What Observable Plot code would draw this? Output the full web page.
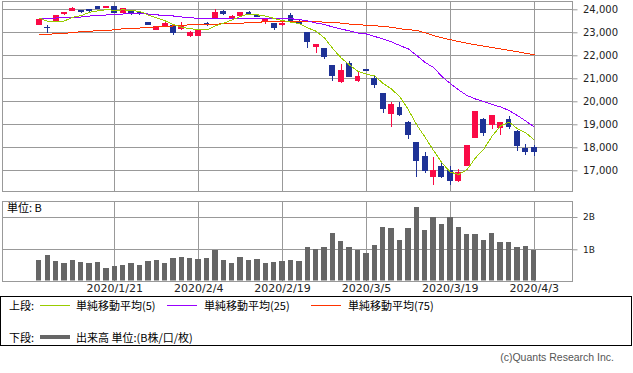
<!DOCTYPE html>
<html><head><meta charset="utf-8">
<script src="https://cdn.jsdelivr.net/npm/d3@7"></script>
<script src="https://cdn.jsdelivr.net/npm/@observablehq/plot@0.6"></script>
<style>
body{margin:0;background:#fff;}
#wrap{position:relative;width:633px;height:373px;overflow:hidden;font-family:"DejaVu Sans",sans-serif;}
#wrap svg{position:absolute;left:0;}
#legend{position:absolute;left:0;top:296px;width:632px;height:50px;box-sizing:border-box;border:1px solid #000;font-family:"Noto Sans CJK JP",sans-serif;font-size:11px;color:#000;}
#legend span{position:absolute;line-height:12px;white-space:nowrap;}
#legend i{position:absolute;display:block;width:30px;}
#copy{position:absolute;right:19px;top:351px;font-family:"Liberation Sans",sans-serif;font-size:10.5px;line-height:12px;color:#555;}
</style></head><body><div id="wrap"></div>
<script>
const dates = ["2020/1/7","2020/1/8","2020/1/9","2020/1/10","2020/1/14","2020/1/15","2020/1/16","2020/1/17","2020/1/20","2020/1/21",
"2020/1/22","2020/1/23","2020/1/24","2020/1/27","2020/1/28","2020/1/29","2020/1/30","2020/1/31","2020/2/3","2020/2/4",
"2020/2/5","2020/2/6","2020/2/7","2020/2/10","2020/2/12","2020/2/13","2020/2/14","2020/2/17","2020/2/18","2020/2/19",
"2020/2/20","2020/2/21","2020/2/25","2020/2/26","2020/2/27","2020/2/28","2020/3/2","2020/3/3","2020/3/4","2020/3/5",
"2020/3/6","2020/3/9","2020/3/10","2020/3/11","2020/3/12","2020/3/13","2020/3/16","2020/3/17","2020/3/18","2020/3/19",
"2020/3/23","2020/3/24","2020/3/25","2020/3/26","2020/3/27","2020/3/30","2020/3/31","2020/4/1","2020/4/2","2020/4/3"];
const opens = [23320,23217,23530,23800,23960,23965,23985,24140,24090,24110,
23845,23890,23880,23440,23110,23235,23280,23150,22870,22860,
23390,23600,23920,23630,23710,23880,23750,23505,23400,23320,
23710,23460,22980,22380,22274,21535,20850,21660,20890,21400,
21010,20343,19474,19750,19060,18190,17580,16725,17150,17010,
16570,17190,18410,19230,18970,18840,19190,18700,17930,18000];
const highs = [23577,23303,23767,23903,24090,23990,24020,24150,24150,24120,
24060,23930,23910,23450,23280,23430,23290,23450,23056,23100,
23430,23995,23950,23770,23880,23920,23780,23610,23410,23450,
23840,23530,22990,22470,22280,21540,21620,21750,21275,21410,
21100,20347,19970,19970,19140,18190,17790,17590,17400,17180,
17050,18100,19565,19275,19400,19100,19360,18752,18140,18090];
const lows = [23300,22951,23506,23761,23930,23860,23900,24010,24060,23850,
23840,23760,23760,23300,23080,23220,22893,23100,22783,22850,
23290,23578,23760,23600,23690,23790,23650,23360,23100,23280,
23440,23350,22320,22120,21840,20900,20800,21060,20840,21300,
20600,19472,18891,19360,18340,16690,16900,16370,16680,16358,
16480,17180,18405,18500,18800,18540,18810,17852,17665,17622];
const closes = [23576,23205,23740,23870,24040,23900,23940,24041,24125,23865,
24050,23800,23827,23344,23270,23400,22978,23240,23010,23085,
23320,23874,23828,23700,23861,23828,23688,23545,23194,23401,
23479,23387,22605,22460,21948,21143,21344,21082,21100,21329,
20750,19699,19867,19416,18560,17431,17002,17012,16727,16553,
16888,18080,19560,18665,19389,19085,18917,18065,17819,17820];
const ma5 = [23640,23496,23477,23515,23679,23748,23893,23953,24007,23975,
23998,23971,23929,23773,23650,23522,23358,23240,23174,23141,
23127,23306,23423,23561,23717,23818,23781,23724,23623,23531,
23461,23401,23213,23066,22776,22309,21900,21595,21323,21200,
21121,20792,20549,20212,19658,18995,18455,17884,17346,16945,
16836,17054,17561,17949,18516,18956,19121,18824,18655,18341];
const ma25 = [23609,23609,23643,23652,23652,23687,23730,23739,23774,23783,
23817,23826,23826,23817,23783,23739,23730,23687,23652,23630,
23609,23609,23609,23609,23609,23609,23609,23609,23609,23609,
23609,23578,23513,23426,23361,23252,23165,23078,22991,22948,
22839,22730,22600,22448,22296,22013,21709,21491,21100,20796,
20513,20274,20122,20013,19883,19774,19622,19404,19165,18904];
const ma75 = [22926,22926,22970,22975,23013,23050,23060,23100,23100,23135,
23174,23174,23210,23220,23261,23261,23300,23317,23355,23361,
23361,23365,23404,23404,23410,23448,23448,23491,23491,23491,
23491,23491,23491,23491,23461,23448,23420,23380,23350,23330,
23310,23274,23240,23174,23140,23100,23000,22880,22780,22700,
22620,22548,22480,22417,22360,22300,22240,22174,22110,22043];
const volumes = [0.67,0.82,0.64,0.58,0.67,0.61,0.58,0.61,0.42,0.48,
0.52,0.58,0.52,0.64,0.67,0.58,0.73,0.76,0.73,0.70,
0.73,0.98,0.67,0.58,0.76,0.67,0.70,0.58,0.61,0.64,
0.67,0.64,1.07,1.01,1.07,1.51,1.26,1.07,0.98,0.89,
1.13,1.69,1.66,1.29,1.66,2.31,1.60,2.00,1.78,2.00,
1.69,1.47,1.47,1.29,1.51,1.23,1.23,1.07,1.10,0.98];
const tickDates = ["2020/1/21","2020/2/4","2020/2/19","2020/3/5","2020/3/19","2020/4/3"];
const priceTicks = [17000,18000,19000,20000,21000,22000,23000,24000];
const volTicks = [1,2];

const RED = "#fa0a46", BLUE = "#1e3296", GRID = "#999";
const rows = dates.map((d, i) => ({i, date: d, o: opens[i], h: highs[i], l: lows[i], c: closes[i],
  up: closes[i] >= opens[i], v: volumes[i], ma5: ma5[i], ma25: ma25[i], ma75: ma75[i]}));
const tickIdx = tickDates.map(t => dates.indexOf(t));
const X = {type: "linear", domain: [0, dates.length - 1], range: [38.8, 533.7]};
const style = {fontFamily: "DejaVu Sans", fontSize: "10px", color: "#222", background: "none", overflow: "visible"};
const col = d => d.up ? RED : BLUE;
const crisp = {shapeRendering: "crispEdges"};

const topChart = Plot.plot({
  width: 633, height: 191, marginTop: 0.5, marginBottom: 0.5, marginLeft: 1.5, marginRight: 61.5,
  style,
  x: {...X, axis: null},
  y: {domain: [17000, 24000], range: [170.3, 9.3], axis: null},
  marks: [
    Plot.gridY(priceTicks, {stroke: GRID, strokeOpacity: 1, ...crisp}),
    Plot.gridX(tickIdx, {stroke: GRID, strokeOpacity: 1, ...crisp}),
    Plot.frame({stroke: GRID, ...crisp}),
    Plot.axisY(priceTicks, {anchor: "right", tickSize: 5, tickPadding: 6, tickFormat: d3.format(","), stroke: GRID, label: null, fontSize: 10}),
    Plot.ruleX(rows, {x: "i", y1: "l", y2: "h", stroke: col, strokeWidth: 1, ...crisp}),
    Plot.rect(rows, {x1: d => d.i - 0.35, x2: d => d.i + 0.35, y1: "o", y2: "c", fill: col, insetTop: -0.5, insetBottom: -0.5, ...crisp}),
    Plot.line(rows, {x: "i", y: "ma75", stroke: "#ff3300", strokeWidth: 1, ...crisp}),
    Plot.line(rows, {x: "i", y: "ma25", stroke: "#9900ff", strokeWidth: 1, ...crisp}),
    Plot.line(rows, {x: "i", y: "ma5", stroke: "#99cc00", strokeWidth: 1, ...crisp})
  ]
});
topChart.style.top = "0px";

const volChart = Plot.plot({
  width: 633, height: 106, marginTop: 11, marginBottom: 15.5, marginLeft: 1.5, marginRight: 61.5,
  style,
  x: {...X, axis: null},
  y: {domain: [0, 2], range: [91.6, 27], axis: null},
  marks: [
    Plot.gridY(volTicks, {stroke: GRID, strokeOpacity: 1, ...crisp}),
    Plot.gridX(tickIdx, {stroke: GRID, strokeOpacity: 1, ...crisp}),
    Plot.rect(rows, {x1: d => d.i - 0.32, x2: d => d.i + 0.32, y1: () => 0, y2: "v", fill: "#666", clip: true, ...crisp}),
    Plot.frame({stroke: GRID, ...crisp}),
    Plot.axisY(volTicks, {anchor: "right", tickSize: 5, tickPadding: 6, tickFormat: d => d + "B", stroke: GRID, label: null, fontSize: 9}),
    Plot.axisX(tickIdx, {anchor: "bottom", tickSize: 0, tickPadding: 3, tickFormat: i => dates[i], label: null, fontSize: 11}),
    Plot.text(["単位: B"], {frameAnchor: "top-left", dx: 5, dy: 3, textAnchor: "start", lineAnchor: "top", fontFamily: "Noto Sans CJK JP", fontSize: 11, fill: "#000"})
  ]
});
volChart.style.top = "190px";

const wrap = document.getElementById("wrap");
wrap.appendChild(topChart);
wrap.appendChild(volChart);

const legend = document.createElement("div");
legend.id = "legend";
legend.innerHTML = `
<span style="left:8px;top:2px">上段:</span>
<i style="left:39px;top:8px;height:1px;background:#99cc00"></i>
<span style="left:75px;top:2px">単純移動平均(5)</span>
<i style="left:166px;top:8px;height:1px;background:#9900ff"></i>
<span style="left:203px;top:2px">単純移動平均(25)</span>
<i style="left:310px;top:8px;height:1px;background:#ff3300"></i>
<span style="left:347px;top:2px">単純移動平均(75)</span>
<span style="left:8px;top:34px">下段:</span>
<i style="left:39px;top:38px;height:4px;background:#666"></i>
<span style="left:75px;top:34px">出来高 単位:(B株/口/枚)</span>`;
wrap.appendChild(legend);

const copy = document.createElement("div");
copy.id = "copy";
copy.textContent = "(c)Quants Research Inc.";
wrap.appendChild(copy);
</script></body></html>
